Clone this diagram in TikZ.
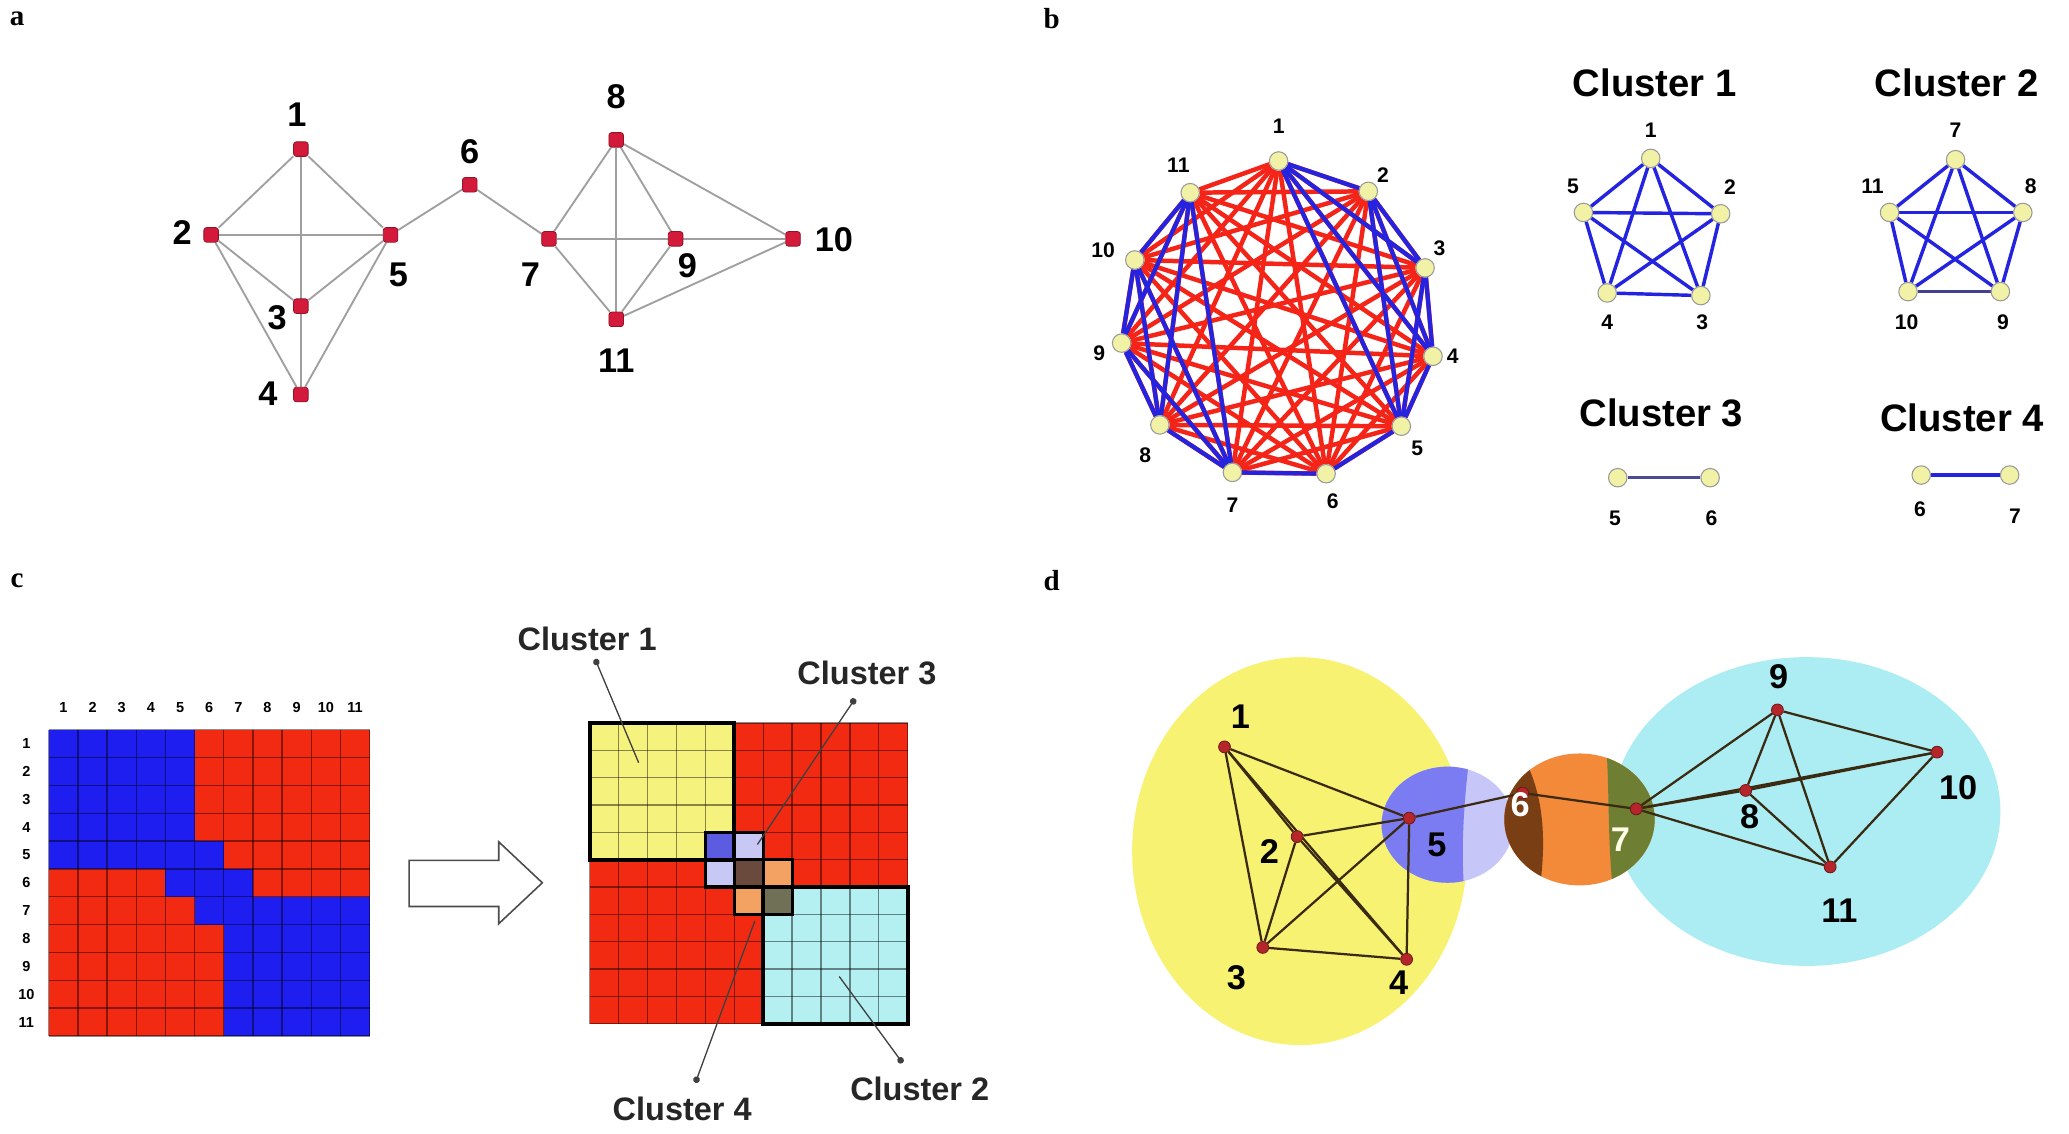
\documentclass[tikz,border=0pt]{standalone}
\usepackage{fontspec}
\setmainfont{Liberation Sans}
\newfontfamily\serifb{Liberation Serif}
\usetikzlibrary{arrows.meta,backgrounds}
\definecolor{ared}{HTML}{D41A3A}
\definecolor{bredc}{HTML}{F42418}
\definecolor{bbluec}{HTML}{2424E0}
\definecolor{bnodefill}{HTML}{F2F2A6}
\definecolor{mred}{HTML}{F22A12}
\definecolor{mblue}{HTML}{1E1EF0}
\definecolor{myellow}{HTML}{F6F27E}
\definecolor{mcyan}{HTML}{B4F0F2}
\definecolor{mca}{HTML}{5C5CE0}
\definecolor{mcb}{HTML}{C8C8F4}
\definecolor{mcab}{HTML}{6A4A3C}
\definecolor{mcc}{HTML}{F4A262}
\definecolor{mccd}{HTML}{707056}
\definecolor{dyellow}{HTML}{F8F272}
\definecolor{dcyan}{HTML}{ABEDF2}
\definecolor{dblue}{HTML}{7C7CF2}
\definecolor{dlav}{HTML}{C6C6F8}
\definecolor{dorange}{HTML}{F28A3A}
\definecolor{dbrown}{HTML}{7A3E14}
\definecolor{dolive}{HTML}{6E7E32}
\definecolor{dedgec}{HTML}{3A2A12}
\definecolor{dnodec}{HTML}{B4262A}
\begin{document}
\begin{tikzpicture}[x=0.5pt,y=-0.5pt,
  plet/.style={font=\serifb\bfseries\fontsize{11}{11}\selectfont},
  anode/.style={rectangle,rounded corners=1pt,fill=ared,draw=ared!70!black,line width=0.3pt,minimum size=5.5pt,inner sep=0pt},
  aedge/.style={draw=gray!75,line width=0.7pt},
  alab/.style={font=\bfseries\fontsize{13}{13}\selectfont,inner sep=0pt},
  bnode/.style={circle,fill=bnodefill,draw=gray!80,line width=0.4pt,minimum size=7pt,inner sep=0pt},
  bredE/.style={draw=bredc,line width=1.7pt},
  bblueE/.style={draw=bbluec,line width=1.6pt},
  blab/.style={font=\bfseries\fontsize{8}{8}\selectfont,inner sep=0pt},
  pedge/.style={draw=bbluec,line width=1.3pt},
  ctitle/.style={font=\bfseries\fontsize{14.5}{14.5}\selectfont,inner sep=0pt},
  mgrid/.style={draw=black,opacity=0.45,line width=0.5pt},
  thickb/.style={draw=black,line width=1.5pt},
  mlab/.style={font=\bfseries\fontsize{5.5}{5.5}\selectfont,inner sep=0pt},
  clab/.style={font=\bfseries\fontsize{12.3}{12.3}\selectfont,inner sep=0pt,text=black!85},
  leader/.style={draw=black!75,line width=0.5pt,{Circle[length=2.5pt]}-},
  barrow/.style={draw=black!70,fill=white,line width=0.6pt},
  dnode/.style={circle,fill=dnodec,draw=dnodec!60!black,line width=0.3pt,minimum size=4.5pt,inner sep=0pt},
  dedge/.style={draw=dedgec,line width=0.85pt},
  dlab/.style={font=\bfseries\fontsize{13}{13}\selectfont,inner sep=0pt}
]
\begin{scope}[on background layer]
\fill[white] (0,0) rectangle (1568,859);
\end{scope}
\useasboundingbox (0,0) rectangle (1568,859);

% panel letters
\node[plet] (la) at (13,14) {a};
\node[plet] (lb) at (797,14) {b};
\node[plet] (lc) at (13,440) {c};
\node[plet] (ld) at (797,440) {d};

% ---------------- panel a
\node[anode] (a1) at (228,113) {};
\node[anode] (a2) at (160,178) {};
\node[anode] (a3) at (228,232) {};
\node[anode] (a4) at (228,299) {};
\node[anode] (a5) at (296,178) {};
\node[anode] (a6) at (356,140) {};
\node[anode] (a7) at (416,181) {};
\node[anode] (a8) at (467,106) {};
\node[anode] (a9) at (512,181) {};
\node[anode] (a10) at (601,181) {};
\node[anode] (a11) at (467,242) {};
\begin{scope}[on background layer]
\foreach \u/\v in {a1/a2,a1/a3,a1/a4,a1/a5,a2/a3,a2/a4,a2/a5,a3/a4,a3/a5,a4/a5,a5/a6,a6/a7,a7/a8,a7/a9,a7/a10,a7/a11,a8/a9,a8/a10,a8/a11,a9/a10,a9/a11,a10/a11}
  \draw[aedge] (\u) -- (\v);
\end{scope}
\node[alab] (ta1) at (225,87) {1};
\node[alab] (ta2) at (138,176) {2};
\node[alab] (ta3) at (210,241) {3};
\node[alab] (ta4) at (203,298) {4};
\node[alab] (ta5) at (302,208) {5};
\node[alab] (ta6) at (356,115) {6};
\node[alab] (ta7) at (402,208) {7};
\node[alab] (ta8) at (467,73) {8};
\node[alab] (ta9) at (521,201) {9};
\node[alab] (ta10) at (632,182) {10};
\node[alab] (ta11) at (467,273) {11};

% ---------------- panel b : full graph
\node[bnode] (b1) at (969,122) {};
\node[bnode] (b2) at (1037,145) {};
\node[bnode] (b3) at (1080,203) {};
\node[bnode] (b4) at (1086,270) {};
\node[bnode] (b5) at (1062,323) {};
\node[bnode] (b6) at (1005,359) {};
\node[bnode] (b7) at (934,358) {};
\node[bnode] (b8) at (879,322) {};
\node[bnode] (b9) at (850,260) {};
\node[bnode] (b10) at (860,197) {};
\node[bnode] (b11) at (902,146) {};
\begin{scope}[on background layer]
\foreach \i in {1,...,11}{\foreach \j in {1,...,11}{\ifnum\i<\j \draw[bredE] (b\i) -- (b\j);\fi}}
\foreach \i in {1,...,5}{\foreach \j in {1,...,5}{\ifnum\i<\j \draw[bblueE] (b\i) -- (b\j);\fi}}
\foreach \i in {7,...,11}{\foreach \j in {7,...,11}{\ifnum\i<\j \draw[bblueE] (b\i) -- (b\j);\fi}}
\draw[bblueE] (b5) -- (b6);
\draw[bblueE] (b6) -- (b7);
\end{scope}
\node[blab] (tb1) at (969,96) {1};
\node[blab] (tb2) at (1048,133) {2};
\node[blab] (tb3) at (1091,188) {3};
\node[blab] (tb4) at (1101,270) {4};
\node[blab] (tb5) at (1074,340) {5};
\node[blab] (tb6) at (1010,380) {6};
\node[blab] (tb7) at (934,383) {7};
\node[blab] (tb8) at (868,345) {8};
\node[blab] (tb9) at (833,268) {9};
\node[blab] (tb10) at (836,190) {10};
\node[blab] (tb11) at (893,125) {11};

% cluster 1
\node[ctitle] (t1) at (1254,63) {Cluster 1};
\node[bnode] (p1) at (1251,120) {};
\node[bnode] (p2) at (1304,162) {};
\node[bnode] (p3) at (1289,224) {};
\node[bnode] (p4) at (1218,222) {};
\node[bnode] (p5) at (1200,161) {};
\begin{scope}[on background layer]
\foreach \i in {1,...,5}{\foreach \j in {1,...,5}{\ifnum\i<\j \draw[pedge] (p\i) -- (p\j);\fi}}
\end{scope}
\node[blab] (tp1) at (1251,99) {1};
\node[blab] (tp2) at (1311,142) {2};
\node[blab] (tp3) at (1290,244) {3};
\node[blab] (tp4) at (1218,244) {4};
\node[blab] (tp5) at (1192,141) {5};

% cluster 2
\node[ctitle] (t2) at (1483,63) {Cluster 2};
\node[bnode] (q7) at (1482,121) {};
\node[bnode] (q8) at (1533,161) {};
\node[bnode] (q9) at (1516,221) {};
\node[bnode] (q10) at (1446,221) {};
\node[bnode] (q11) at (1432,161) {};
\begin{scope}[on background layer]
\foreach \u/\v in {q7/q8,q7/q9,q7/q10,q7/q11,q8/q10,q8/q11,q8/q9,q9/q11,q10/q11}
  \draw[pedge] (\u) -- (\v);
\draw[pedge,draw=bbluec!50!black!80] (q10) -- (q9);
\end{scope}
\node[blab] (tq7) at (1482,99) {7};
\node[blab] (tq8) at (1539,141) {8};
\node[blab] (tq9) at (1518,244) {9};
\node[blab] (tq10) at (1445,244) {10};
\node[blab] (tq11) at (1419,141) {11};

% cluster 3
\node[ctitle] (t3) at (1259,313) {Cluster 3};
\node[bnode] (r5) at (1226,362) {};
\node[bnode] (r6) at (1296,362) {};
\draw[pedge,draw=black!60!blue!70] (r5) -- (r6);
\node[blab] (tr5) at (1224,393) {5};
\node[blab] (tr6) at (1297,393) {6};

% cluster 4
\node[ctitle] (t4) at (1487,317) {Cluster 4};
\node[bnode] (s6) at (1456,360) {};
\node[bnode] (s7) at (1523,360) {};
\draw[pedge] (s6) -- (s7);
\node[blab] (ts6) at (1455,386) {6};
\node[blab] (ts7) at (1527,391) {7};

% ---------------- panel c : left matrix
\fill[mred] (37,553) rectangle ++(11*22.1,11*21.1);
\fill[mblue] (37,553) rectangle ++(5*22.1,4*21.1);
\fill[mblue] (37,553+4*21.1) rectangle ++(6*22.1,21.1);
\fill[mblue] (37+4*22.1,553+5*21.1) rectangle ++(3*22.1,21.1);
\fill[mblue] (37+5*22.1,553+6*21.1) rectangle ++(6*22.1,21.1);
\fill[mblue] (37+6*22.1,553+7*21.1) rectangle ++(5*22.1,4*21.1);
\foreach \k in {0,...,11}{
  \draw[mgrid] (37+\k*22.1,553) -- ++(0,11*21.1);
  \draw[mgrid] (37,553+\k*21.1) -- ++(11*22.1,0);
}
\foreach \k in {1,...,11}{
  \node[mlab] (cc\k) at (37+\k*22.1-11.05,536) {\k};
  \node[mlab] (cr\k) at (20,553+\k*21.1-10.55) {\k};
}

% block arrow
\draw[barrow] (310,652) -- (378,652) -- (378,638) -- (411,669) -- (378,700) -- (378,687) -- (310,687) -- cycle;

% right matrix
\fill[mred] (447,548) rectangle ++(11*21.9,11*20.7);
\fill[myellow] (447,548) rectangle ++(5*21.9,5*20.7);
\fill[mcyan] (447+6*21.9,548+6*20.7) rectangle ++(5*21.9,5*20.7);
\fill[mca] (447+4*21.9,548+4*20.7) rectangle ++(21.9,20.7);
\fill[mcb] (447+5*21.9,548+4*20.7) rectangle ++(21.9,20.7);
\fill[mcb] (447+4*21.9,548+5*20.7) rectangle ++(21.9,20.7);
\fill[mcab] (447+5*21.9,548+5*20.7) rectangle ++(21.9,20.7);
\fill[mcc] (447+6*21.9,548+5*20.7) rectangle ++(21.9,20.7);
\fill[mcc] (447+5*21.9,548+6*20.7) rectangle ++(21.9,20.7);
\fill[mccd] (447+6*21.9,548+6*20.7) rectangle ++(21.9,20.7);
\foreach \k in {0,...,11}{
  \draw[mgrid] (447+\k*21.9,548) -- ++(0,11*20.7);
  \draw[mgrid] (447,548+\k*20.7) -- ++(11*21.9,0);
}
\draw[thickb] (447,548) rectangle ++(5*21.9,5*20.7);
\draw[thickb] (447+6*21.9,548+6*20.7) rectangle ++(5*21.9,5*20.7);
\draw[thickb,line width=1.2pt] (447+4*21.9,548+4*20.7) rectangle ++(2*21.9,2*20.7);
\draw[thickb,line width=1.2pt] (447+5*21.9,548+5*20.7) rectangle ++(2*21.9,2*20.7);

\node[clab] (k1) at (445,484) {Cluster 1};
\node[clab] (k3) at (657,510) {Cluster 3};
\node[clab] (k4) at (517,840) {Cluster 4};
\node[clab] (k2) at (697,825) {Cluster 2};
\coordinate (e1) at (484,578);
\coordinate (e3) at (574,640);
\coordinate (e4) at (572,698);
\coordinate (e2) at (636,740);
\draw[leader] (k1.south)++(6,6) -- (e1);
\draw[leader] (k3.south)++(-9,10) -- (e3);
\draw[leader] (k4.north)++(10,-10) -- (e4);
\draw[leader] (k2.north)++(-13,-10) -- (e2);

% ---------------- panel d
\begin{scope}[on background layer]
\fill[dyellow] (985,645) ellipse [x radius=127,y radius=147];
\fill[dcyan] (1369,615) ellipse [x radius=147,y radius=117];
\fill[dlav] (1097,625) ellipse [x radius=50,y radius=44];
\begin{scope}
  \clip (1097,625) ellipse [x radius=50,y radius=44];
  \fill[dblue] (1040,570) -- (1114,570) .. controls (1109,610) and (1107,645) .. (1110,680) -- (1040,680) -- cycle;
\end{scope}
\fill[dorange] (1197,621) ellipse [x radius=57,y radius=50];
\begin{scope}
  \clip (1197,621) ellipse [x radius=57,y radius=50];
  \fill[dbrown] (1130,560) -- (1150,566) .. controls (1172,600) and (1172,640) .. (1166,680) -- (1130,680) -- cycle;
  \fill[dolive] (1217,560) .. controls (1220,600) and (1218,640) .. (1223,680) -- (1260,680) -- (1260,560) -- cycle;
\end{scope}
\end{scope}
\node[dnode] (d1) at (928,566) {};
\node[dnode] (d2) at (983,634) {};
\node[dnode] (d3) at (957,718) {};
\node[dnode] (d4) at (1066,727) {};
\node[dnode] (d5) at (1068,620) {};
\node[dnode] (d6) at (1154,601) {};
\node[dnode] (d7) at (1240,613) {};
\node[dnode] (d8) at (1323,599) {};
\node[dnode] (d9) at (1347,538) {};
\node[dnode] (d10) at (1468,570) {};
\node[dnode] (d11) at (1387,657) {};
\begin{scope}[on background layer]
\foreach \u/\v in {d1/d2,d1/d3,d1/d4,d1/d5,d2/d3,d2/d4,d2/d5,d3/d4,d3/d5,d4/d5,d5/d6,d6/d7,d7/d8,d7/d9,d7/d10,d7/d11,d8/d9,d8/d10,d8/d11,d9/d10,d9/d11,d10/d11}
  \draw[dedge] (\u) -- (\v);
\end{scope}
\node[dlab] (td1) at (940,543) {1};
\node[dlab] (td2) at (962,645) {2};
\node[dlab] (td3) at (937,741) {3};
\node[dlab] (td4) at (1060,745) {4};
\node[dlab] (td5) at (1089,640) {5};
\node[dlab,text=white] (td6) at (1152,610) {6};
\node[dlab,text=white!90!yellow] (td7) at (1228,636) {7};
\node[dlab] (td8) at (1326,619) {8};
\node[dlab] (td9) at (1348,513) {9};
\node[dlab] (td10) at (1484,597) {10};
\node[dlab] (td11) at (1394,690) {11};
\end{tikzpicture}
\end{document}
